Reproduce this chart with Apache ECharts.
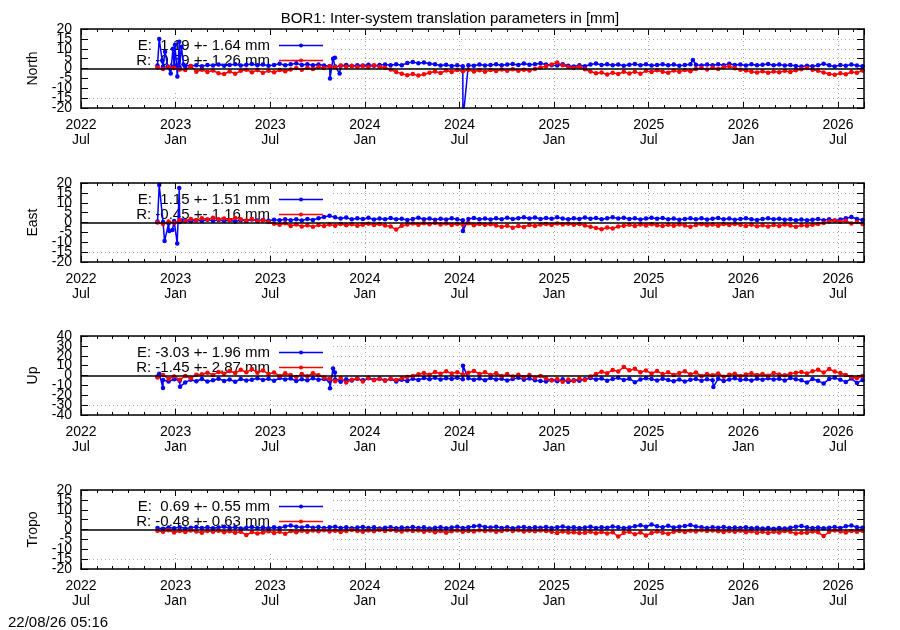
<!DOCTYPE html>
<html>
<head>
<meta charset="utf-8">
<script src="https://cdn.jsdelivr.net/npm/echarts@6/dist/echarts.min.js"></script>
<style>
html,body{margin:0;padding:0;background:#fff;}
#chart{width:900px;height:630px;}
</style>
</head>
<body>
<div id="chart"></div>
<script>
// ---------------- data ----------------
// x values are months since 2022-07-01; regular samples start at SAMPLE_START, every SAMPLE_STEP months
const SAMPLE_START = 4.85;
const SAMPLE_STEP = 0.352;
const X_MAX = 49.65;

const panelNames = ['North', 'East', 'Up', 'Tropo'];
const yMins = [-20, -20, -40, -20];
const yMaxs = [20, 20, 40, 20];
const ySteps = [5, 5, 10, 5];
// y tick labels (split into two sets so the library keeps every one of them)
const yLabelsA = [[-20, -10, 0, 10, 20], [-20, -10, 0, 10, 20], [-40, -20, 0, 20, 40], [-20, -10, 0, 10, 20]];
const yLabelsB = [[-15, -5, 5, 15], [-15, -5, 5, 15], [-30, -10, 10, 30], [-15, -5, 5, 15]];

const xTickYears = ['2022', '2023', '2023', '2024', '2024', '2025', '2025', '2026', '2026'];
const xTickMonths = ['Jul', 'Jan', 'Jul', 'Jan', 'Jul', 'Jan', 'Jul', 'Jan', 'Jul'];

const statsE = [' 1.19 +- 1.64 mm', ' 1.15 +- 1.51 mm', '-3.03 +- 1.96 mm', ' 0.69 +- 0.55 mm'];
const statsR = ['-0.59 +- 1.26 mm', '-0.45 +- 1.16 mm', '-1.45 +- 2.87 mm', '-0.48 +- 0.63 mm'];

const northE = [1.5,1.0,0.8,1.2,0.5,1.0,1.3,1.6,1.2,1.8,
 1.5,2.0,1.4,1.8,2.2,1.5,1.9,2.3,1.6,2.0,
 1.4,1.8,2.4,1.7,2.1,2.6,1.8,2.2,1.6,2.0,
 1.5,1.2,1.0,1.4,1.8,1.3,1.7,1.5,1.9,1.4,
 1.8,2.0,1.6,2.2,1.7,2.8,3.3,2.6,3.0,2.4,
 2.2,1.5,1.9,1.3,1.6,1.2,1.7,1.4,2.0,1.5,
 1.8,2.2,1.6,2.0,2.3,1.8,2.5,1.9,2.2,2.6,
 2.0,1.7,1.5,2.1,1.4,1.0,1.6,1.2,2.0,2.5,
 1.8,2.2,1.6,2.0,1.4,1.9,2.3,1.7,2.1,1.5,
 1.8,2.2,1.6,2.0,1.4,1.8,2.2,1.9,1.5,2.0,
 1.6,2.1,1.7,2.4,1.8,2.0,1.5,2.2,1.7,1.9,
 2.3,1.6,2.0,1.5,1.8,1.3,1.0,1.4,1.1,1.7,
 2.4,1.6,1.0,1.8,1.4,2.0,1.5,1.2];
const northR = [0.5,-0.3,0.8,0.2,-0.5,-0.8,1.2,-1.6,-0.6,-1.8,
 -1.0,-2.4,-2.8,-1.5,-2.6,-1.2,-0.6,-1.9,-0.8,-2.2,
 -1.2,-1.9,-0.8,-1.4,-0.5,0.2,-0.6,0.4,-0.2,0.8,
 0.3,1.2,0.6,1.5,0.9,1.4,0.7,1.3,0.8,1.6,
 0.9,0.4,-0.5,-1.8,-2.6,-3.4,-2.8,-3.6,-2.9,-2.2,
 -1.5,-2.3,-1.0,-1.8,-0.7,-1.4,-0.6,-1.5,-0.9,-1.7,
 -0.8,-1.3,-0.5,-1.1,-0.4,-1.2,-0.6,-1.0,-0.2,0.5,
 1.2,2.0,3.0,1.6,0.8,0.3,0.9,-0.4,-1.5,-2.4,
 -2.0,-3.0,-2.2,-2.8,-1.7,-2.5,-1.6,-2.6,-1.2,-1.8,
 -0.9,-1.6,-2.2,-1.0,-1.7,-0.8,-1.4,-0.3,0.2,-0.5,
 0.4,-0.2,0.6,1.2,0.1,-0.6,-1.0,-1.6,-2.0,-1.4,
 -2.2,-1.5,-1.9,-1.2,-1.8,-0.9,-0.4,0.2,-0.6,-1.2,
 -2.0,-2.8,-3.2,-2.4,-2.9,-1.8,-2.2,-1.0];
const northEExtra = [[4.96,15],[5.15,4],[5.33,8.5],[5.5,1],[5.69,-2.5],[5.83,10],[5.96,12],[6.11,-4],
 [6.23,13.5],[6.37,11],[6.5,2],[15.79,-5],[15.98,5],[16.1,5.5],[16.4,-2.5],[24.22,-26],[38.8,4.3]];

const eastE = [0.5,0.2,-0.5,0.8,0.3,1.0,0.6,1.2,0.8,1.4,
 0.9,1.3,0.7,1.1,0.5,1.2,0.8,1.5,1.0,1.3,
 0.9,1.4,1.1,1.7,1.2,1.6,1.0,1.8,1.3,2.2,
 2.8,3.4,2.6,2.0,2.5,1.6,2.2,1.8,2.4,1.5,
 2.0,1.7,2.3,1.6,1.9,1.3,1.8,2.4,1.6,2.0,
 1.4,1.9,1.5,2.2,1.7,1.2,1.8,2.3,1.6,2.0,
 1.5,2.1,1.7,2.4,1.8,2.2,2.7,2.0,2.5,1.8,
 2.3,1.9,2.6,2.0,1.6,2.2,1.8,2.5,1.9,2.3,
 1.7,2.1,2.6,2.0,2.4,1.8,2.2,1.5,2.0,2.4,
 1.9,2.3,1.6,2.0,1.4,1.8,2.2,1.7,2.1,1.5,
 1.9,2.3,1.7,2.0,1.4,1.8,2.1,1.6,1.3,1.8,
 2.2,1.6,1.9,1.4,1.7,1.2,1.5,1.1,1.4,1.8,
 1.2,1.6,1.0,1.5,2.2,2.8,1.8,1.3];
const eastR = [0.0,-0.8,0.5,-0.3,1.2,0.8,1.8,1.2,2.2,1.5,
 2.4,1.7,2.0,1.3,2.3,1.6,1.0,1.8,0.6,1.2,
 0.3,-0.6,-1.2,-0.4,-1.8,-1.0,-2.0,-1.4,-2.2,-1.3,
 -1.8,-1.0,-1.6,-0.7,-1.4,-0.9,-1.7,-1.1,-0.6,-1.3,
 -0.8,-1.5,-2.0,-3.6,-1.6,-1.0,-0.5,-1.2,-0.4,-0.9,
 -0.3,-1.0,-0.5,-1.3,-0.7,-1.1,-0.4,-1.4,-0.8,-1.2,
 -0.9,-1.5,-2.2,-1.6,-2.6,-1.8,-2.3,-1.3,-1.8,-1.0,
 -0.8,-1.3,-0.5,-1.0,-0.6,-1.2,-0.7,-1.5,-2.2,-2.8,
 -3.4,-2.5,-3.0,-2.0,-1.6,-1.2,-1.8,-1.0,-1.5,-0.9,
 -1.4,-1.8,-1.1,-1.6,-1.0,-1.5,-2.2,-1.3,-0.9,-1.4,
 -1.0,-1.6,-0.8,-1.3,-0.7,-1.2,-1.8,-1.1,-1.9,-1.4,
 -2.0,-1.3,-1.8,-1.0,-1.5,-2.1,-1.4,-1.7,-1.1,-0.8,
 -0.2,0.5,1.0,0.4,0.9,-0.5,0.2,-0.8];
const eastEExtra = [[4.96,19],[5.3,-9.4],[5.6,-4.3],[5.8,-3.8],[6.1,-10.6],[6.23,17.5],[6.4,1],[24.22,-4.3]];

const upE = [-1.0,-4.5,-6.0,-3.8,-5.2,-7.0,-4.4,-5.8,-3.6,-6.2,
 -4.8,-3.2,-5.5,-4.0,-6.3,-3.5,-5.0,-4.2,-2.8,-4.6,
 -3.4,-5.3,-2.6,-4.1,-3.0,-5.6,-3.8,-4.9,-2.9,-4.4,
 -3.6,-5.8,-4.0,-6.4,-3.7,-5.1,-3.3,-4.7,-2.8,-4.3,
 -3.1,-4.8,-3.5,-6.0,-4.2,-5.5,-3.2,-4.5,-2.6,-3.8,
 -2.4,-4.0,-2.9,-3.6,-2.2,-3.9,-2.7,-4.4,-3.0,-4.8,
 -2.5,-4.1,-3.3,-5.0,-3.6,-2.4,-4.2,-3.1,-4.7,-5.5,
 -6.2,-4.5,-5.8,-3.9,-6.4,-4.8,-5.4,-3.7,-2.6,-4.1,
 -3.0,-5.2,-3.6,-2.4,-4.5,-3.2,-6.8,-4.0,-2.8,-3.6,
 -5.0,-3.4,-4.6,-5.8,-4.1,-6.0,-4.4,-3.5,-5.2,-3.9,
 -4.7,-3.3,-5.5,-4.0,-2.9,-4.6,-3.7,-5.1,-3.4,-4.3,
 -2.8,-4.0,-3.2,-5.0,-2.6,-3.8,-4.9,-7.2,-3.5,-5.4,
 -8.0,-3.6,-2.4,-4.4,-6.5,-3.1,-7.5,-4.6];
const upR = [-2.0,0.5,-3.5,-1.0,-4.2,-0.6,-2.8,0.8,
 1.2,2.8,0.6,3.5,1.8,4.6,2.5,5.8,3.2,6.5,2.9,5.0,
 1.6,3.0,-0.5,2.2,0.4,-1.6,1.5,-0.8,2.4,0.2,-2.0,
 -3.5,-5.8,-2.6,-7.0,-4.2,-3.0,-6.0,-2.4,-4.8,-3.6,-5.2,
 -3.2,-4.6,-2.8,-1.5,-0.4,1.2,
 2.5,0.8,3.6,1.8,4.2,2.0,3.4,0.9,2.8,4.6,1.5,3.2,0.6,2.4,-0.5,1.4,
 -1.0,0.8,-1.8,0.4,-2.2,-0.6,-3.0,
 -5.0,-3.6,-6.4,-4.0,-5.6,-3.2,-4.6,
 -1.0,1.5,3.8,2.2,5.6,4.0,8.6,5.2,6.8,3.4,5.0,
 2.0,4.6,1.4,3.2,0.6,2.6,4.2,1.2,3.0,
 -0.5,1.6,0.3,2.0,-1.2,0.8,1.8,-0.4,1.0,
 2.2,0.4,1.5,-0.2,2.6,1.0,0.2,1.8,2.8,
 3.5,2.0,4.2,5.8,3.0,6.5,4.0,2.5,
 0.5,-1.5,-2.8,-0.6];
const upEExtra = [[4.96,1.7],[5.2,-12.6],[6.28,-11.3],[15.79,-13],[15.98,7],[16.1,3],[24.22,10],[40.1,-11.6]];

const tropoE = [0.8,0.4,1.0,0.6,1.2,0.5,0.9,1.3,0.7,1.1,
 0.6,1.0,1.4,0.8,1.2,0.5,0.9,1.3,0.7,1.0,
 0.6,1.1,0.8,1.5,2.0,1.4,1.0,1.6,0.9,1.3,
 0.7,1.1,1.4,0.8,1.2,0.6,1.0,1.3,0.7,1.1,
 0.5,0.9,1.2,0.6,1.0,0.8,1.3,0.7,1.1,0.5,
 0.9,1.2,0.6,1.0,1.4,0.8,1.1,1.6,1.9,1.3,
 1.0,1.4,0.8,1.2,0.6,1.0,1.3,0.7,1.1,0.9,
 1.3,0.8,1.2,1.5,0.9,1.1,0.7,1.0,1.4,0.8,
 1.2,0.9,1.5,1.1,0.7,1.0,1.6,2.2,1.4,2.5,
 1.7,1.2,1.9,1.0,1.4,1.8,2.3,1.5,1.1,0.8,
 1.2,0.9,1.3,0.7,1.0,0.8,1.1,0.6,0.9,0.5,
 0.8,0.4,0.7,0.5,0.9,1.4,1.8,1.1,0.7,1.0,
 0.6,0.9,1.3,0.8,1.6,2.0,1.2,0.9];
const tropoR = [-0.6,-1.2,-0.4,-1.5,-0.8,-1.3,-0.5,-1.0,-1.6,-0.7,
 -1.2,-0.6,-1.4,-0.9,-1.7,-1.1,-2.8,-1.3,-2.0,-1.5,
 -0.9,-1.8,-1.2,-2.2,-0.8,-1.4,-0.6,-1.1,-0.5,-0.9,
 -0.4,-1.0,-0.6,-1.3,-0.7,-0.3,-0.8,-1.2,-0.5,-0.9,
 -0.3,-0.7,-0.2,-0.6,-1.0,-0.4,-0.8,-0.5,-1.1,-0.6,
 -1.4,-0.8,-1.6,-0.9,-0.5,-1.2,-0.7,-1.0,-0.4,-0.8,
 -0.5,-1.1,-0.7,-0.3,-0.8,-0.4,-1.0,-0.6,-0.9,-0.5,
 -0.8,-1.2,-1.8,-1.0,-1.5,-1.4,-1.8,-1.6,-1.1,-1.9,
 -1.3,-2.0,-1.4,-3.6,-1.7,-1.2,-2.4,-1.5,-3.0,-1.8,
 -1.0,-1.6,-2.2,-1.1,-0.7,-1.3,-0.6,-1.0,-0.4,-0.8,
 -0.5,-0.9,-1.3,-0.7,-1.1,-0.6,-1.4,-0.9,-1.6,-1.2,
 -1.8,-1.1,-1.5,-0.8,-1.2,-2.0,-1.6,-1.6,-1.0,-1.4,
 -3.3,-1.2,-0.5,-1.0,-1.5,-0.7,-1.1,-0.6];

const seriesE = [northE, eastE, upE, tropoE];
const seriesR = [northR, eastR, upR, tropoR];
const extrasE = [northEExtra, eastEExtra, upEExtra, []];

// ---------------- chart ----------------
const FONT = 'Liberation Sans';
const BLUE = '#0000ff';
const RED = '#ff0000';
const TOPS = [29, 183, 336, 490];
const H = 79;
const LEFT = 81, RIGHT = 36;

function build(vals, extra) {
  const pts = vals.map((v, i) => [SAMPLE_START + SAMPLE_STEP * i, v]);
  extra.forEach(p => pts.push(p));
  pts.sort((a, b) => a[0] - b[0]);
  return pts;
}

function xLabel(v) {
  const k = v / 6;
  if (Math.abs(k - Math.round(k)) > 1e-6) return '';
  const i = Math.round(k);
  if (i < 0 || i >= xTickYears.length) return '';
  return xTickYears[i] + '\n' + xTickMonths[i];
}

const grids = [], xAxes = [], yAxes = [], series = [], graphics = [];
const black = {color: '#000'};
const gridLine = {show: true, lineStyle: {color: '#aaaaaa', width: 1, type: [1, 3]}};
const labelFont = {fontFamily: FONT, fontSize: 14, color: '#000'};

TOPS.forEach((top, p) => {
  grids.push({left: LEFT, right: RIGHT, top: top, height: H});
  const baseX = {gridIndex: p, type: 'value', min: 0, max: X_MAX, silent: true};
  xAxes.push(Object.assign({}, baseX, {
    position: 'bottom', interval: 6, z: 3,
    axisLine: {show: true, onZero: false, lineStyle: {color: '#000', width: 1.5}},
    axisTick: {show: true, inside: true, length: 6, lineStyle: black},
    splitLine: {show: false},
    axisLabel: Object.assign({show: true, formatter: xLabel, margin: 10, lineHeight: 15,
      showMinLabel: true, showMaxLabel: true, hideOverlap: false}, labelFont)
  }));
  xAxes.push(Object.assign({}, baseX, {
    position: 'bottom', interval: 1, z: 3,
    axisLine: {show: false, onZero: false},
    axisTick: {show: true, inside: true, length: 3, lineStyle: black},
    splitLine: {show: false}, axisLabel: {show: false}
  }));
  xAxes.push(Object.assign({}, baseX, {
    position: 'top', interval: 6, z: 3,
    axisLine: {show: true, onZero: false, lineStyle: {color: '#000', width: 1.5}},
    axisTick: {show: true, inside: true, length: 6, lineStyle: black},
    splitLine: {show: false}, axisLabel: {show: false}
  }));
  xAxes.push(Object.assign({}, baseX, {
    position: 'top', interval: 1, z: 3,
    axisLine: {show: false, onZero: false},
    axisTick: {show: true, inside: true, length: 3, lineStyle: black},
    splitLine: {show: false}, axisLabel: {show: false}
  }));
  xAxes.push(Object.assign({}, baseX, {
    position: 'bottom', interval: 6, z: 0,
    axisLine: {show: false, onZero: false}, axisTick: {show: false}, axisLabel: {show: false},
    splitLine: gridLine
  }));

  const baseY = {gridIndex: p, type: 'value', min: yMins[p], max: yMaxs[p], interval: ySteps[p], silent: true};
  // 0: left frame with ticks and name
  yAxes.push(Object.assign({}, baseY, {
    position: 'left', z: 3,
    name: panelNames[p], nameLocation: 'middle', nameGap: 41, nameRotate: 90,
    nameTextStyle: labelFont,
    axisLine: {show: true, onZero: false, lineStyle: {color: '#000', width: 1.5}},
    axisTick: {show: true, inside: true, length: 7, lineStyle: black},
    splitLine: {show: false}, axisLabel: {show: false}
  }));
  // 1: right frame
  yAxes.push(Object.assign({}, baseY, {
    position: 'right', z: 3,
    axisLine: {show: true, onZero: false, lineStyle: {color: '#000', width: 1.5}},
    axisTick: {show: true, inside: true, length: 7, lineStyle: black},
    splitLine: {show: false}, axisLabel: {show: false}
  }));
  // 2: horizontal grid lines
  yAxes.push(Object.assign({}, baseY, {
    position: 'left', z: 0,
    axisLine: {show: false, onZero: false}, axisTick: {show: false}, axisLabel: {show: false},
    splitLine: gridLine
  }));
  // 3,4: tick labels
  [yLabelsA[p], yLabelsB[p]].forEach(vals => {
    yAxes.push(Object.assign({}, baseY, {
      position: 'left', z: 3,
      axisLine: {show: false, onZero: false}, axisTick: {show: false}, splitLine: {show: false},
      axisLabel: Object.assign({show: true, margin: 9, customValues: vals,
        showMinLabel: true, showMaxLabel: true, hideOverlap: false}, labelFont)
    }));
  });

  const xi = p * 5, yi = p * 5;
  const common = {
    type: 'line', xAxisIndex: xi, yAxisIndex: yi, z: 2, animation: false,
    symbol: 'circle', symbolSize: 4.5, showSymbol: true, showAllSymbol: true, clip: true, silent: true
  };
  series.push(Object.assign({}, common, {
    name: 'E' + p, data: build(seriesE[p], extrasE[p]),
    itemStyle: {color: BLUE}, lineStyle: {color: BLUE, width: 1.5}
  }));
  series.push(Object.assign({}, common, {
    name: 'R' + p, data: build(seriesR[p], []),
    itemStyle: {color: RED}, lineStyle: {color: RED, width: 1.5}
  }));
  series.push({
    type: 'line', xAxisIndex: xi, yAxisIndex: yi, z: 4, data: [], silent: true, animation: false,
    markLine: {silent: true, symbol: ['none', 'none'], label: {show: false}, animation: false,
      lineStyle: {color: '#000', width: 1.5, type: 'solid'}, data: [{yAxis: 0}]}
  });

  graphics.push({type: 'rect', z: 1, silent: true,
    shape: {x: LEFT + 1, y: top + 1, width: 249, height: 63}, style: {fill: '#fff'}});
  const rows = [['E: ' + statsE[p], BLUE, top + 16.5], ['R: ' + statsR[p], RED, top + 31.5]];
  rows.forEach(r => {
    graphics.push({type: 'text', z: 1, silent: true, x: 270, y: r[2],
      style: {text: r[0], fill: '#000', font: '15px "' + FONT + '"', align: 'right', verticalAlign: 'middle'}});
    graphics.push({type: 'line', z: 3, silent: true,
      shape: {x1: 279, y1: r[2], x2: 323, y2: r[2]}, style: {stroke: r[1], lineWidth: 1.5}});
    graphics.push({type: 'circle', z: 3, silent: true,
      shape: {cx: 301, cy: r[2], r: 2}, style: {fill: r[1]}});
  });
});

graphics.push({type: 'text', z: 5, silent: true, x: 8, y: 623,
  style: {text: '22/08/26 05:16', fill: '#000', font: '15px "' + FONT + '"', align: 'left', verticalAlign: 'middle'}});

const chart = echarts.init(document.getElementById('chart'), null, {renderer: 'canvas'});
chart.setOption({
  animation: false,
  backgroundColor: '#fff',
  title: {text: 'BOR1: Inter-system translation parameters in [mm]', left: 'center', top: 6,
    textStyle: {fontFamily: FONT, fontSize: 15, fontWeight: 'normal', color: '#000'}},
  grid: grids,
  xAxis: xAxes,
  yAxis: yAxes,
  series: series,
  graphic: graphics
});
</script>
</body>
</html>
